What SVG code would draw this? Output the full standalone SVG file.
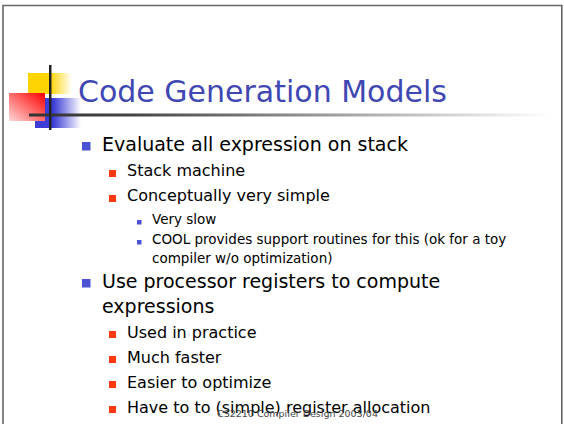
<svg xmlns="http://www.w3.org/2000/svg" width="564" height="424" viewBox="0 0 564 424">
<style>
text{font-family:"DejaVu Sans",Verdana,sans-serif;fill:#000}
.title{font-size:30px;fill:#3f47b3}
.l1{font-size:19px}
.l2{font-size:16px}
.l3{font-size:13.5px}
.foot{font-size:9.5px;fill:#444}
.b1{fill:#4b52d4}
.b2{fill:#ff3a12}
.b3{fill:#4b52d4}
</style>
<defs>
<linearGradient id="gy" x1="0" y1="0" x2="1" y2="0">
<stop offset="0" stop-color="#ffd400"/><stop offset="0.5" stop-color="#ffd400"/><stop offset="1" stop-color="#ffd400" stop-opacity="0"/>
</linearGradient>
<linearGradient id="gb" x1="0" y1="0" x2="1" y2="0">
<stop offset="0" stop-color="#3d3dd6"/><stop offset="0.4" stop-color="#3d3dd6"/><stop offset="1" stop-color="#3d3dd6" stop-opacity="0"/>
</linearGradient>
<linearGradient id="gr" x1="1" y1="0" x2="0" y2="1">
<stop offset="0" stop-color="#ff0000"/><stop offset="1" stop-color="#ffd8d8"/>
</linearGradient>
<linearGradient id="gl" x1="0" y1="0" x2="1" y2="0">
<stop offset="0" stop-color="#333"/><stop offset="0.2" stop-color="#444"/><stop offset="1" stop-color="#fff"/>
</linearGradient>
</defs>
<rect width="564" height="424" fill="#fff"/>
<g id="frame" fill="none" stroke="#666" stroke-width="1.6">
<path d="M3,424 V5.5 H561.8 V424"/>
</g>
<g id="logo">
<rect x="28" y="73" width="44" height="21" fill="url(#gy)"/>
<rect x="35" y="98" width="46" height="30" fill="url(#gb)"/>
<rect x="9" y="93" width="36" height="28" fill="url(#gr)"/>
<rect x="29" y="113.5" width="520" height="3" fill="url(#gl)"/>
<rect x="49" y="65" width="2.5" height="65" fill="#222"/>
</g>
<g id="title">
<text class="title" x="78" y="102">Code Generation Models</text>
</g>
<g id="body">
<rect class="b1" x="82" y="142" width="8.5" height="8.5"/>
<text class="l1" x="102" y="151">Evaluate all expression on stack</text>
<rect class="b2" x="109" y="170" width="7" height="7"/>
<text class="l2" x="127" y="176">Stack machine</text>
<rect class="b2" x="109" y="195" width="7" height="7"/>
<text class="l2" x="127" y="201">Conceptually very simple</text>
<rect class="b3" x="137" y="220" width="4.5" height="4.5"/>
<text class="l3" x="152" y="224">Very slow</text>
<rect class="b3" x="137" y="240" width="4.5" height="4.5"/>
<text class="l3" x="152" y="244">COOL provides support routines for this (ok for a toy</text>
<text class="l3" x="152" y="263">compiler w/o optimization)</text>
<rect class="b1" x="82" y="279" width="8.5" height="8.5"/>
<text class="l1" x="102" y="288">Use processor registers to compute</text>
<text class="l1" x="102" y="313">expressions</text>
<rect class="b2" x="109" y="331" width="7" height="7"/>
<text class="l2" x="127" y="338">Used in practice</text>
<rect class="b2" x="109" y="356" width="7" height="7"/>
<text class="l2" x="127" y="363">Much faster</text>
<rect class="b2" x="109" y="381" width="7" height="7"/>
<text class="l2" x="127" y="388">Easier to optimize</text>
<rect class="b2" x="109" y="406" width="7" height="7"/>
<text class="l2" x="127" y="413">Have to to (simple) register allocation</text>
</g>
<g id="footer">
<text class="foot" x="297.5" y="417" text-anchor="middle">CS2210 Compiler Design 2003/04</text>
</g>
</svg>
